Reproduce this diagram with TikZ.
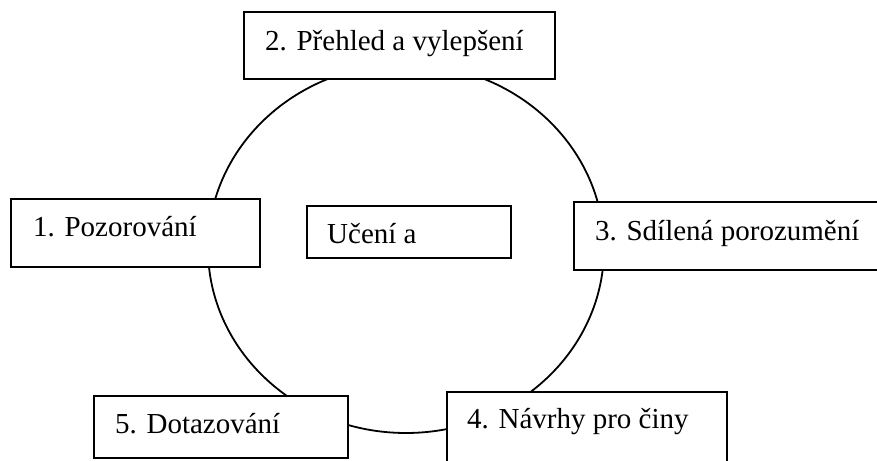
\documentclass[tikz,border=0pt]{standalone}
\usepackage{fontspec}
\setmainfont{Liberation Serif}
\newfontfamily\capfont{Liberation Serif}
\begin{document}
\begin{tikzpicture}[x=1pt,y=-1pt,
  stage/.style={draw=black, line width=2pt, fill=white, rectangle, inner sep=0pt},
  caption/.style={anchor=base west, inner sep=0pt, font=\capfont\fontsize{29}{34}\selectfont}]
\useasboundingbox (0,0) rectangle (877,460);
\clip (0,0) rectangle (877,460);
% the learning cycle
\draw[line width=1.8pt] (406,248.5) ellipse [x radius=198pt, y radius=184.5pt];
% stage boxes
\node[stage, minimum width=249pt, minimum height=68pt] (b1) at (135.5,233) {};
\node[stage, minimum width=311pt, minimum height=67pt] (b2) at (399.5,45.5) {};
\node[stage, minimum width=316pt, minimum height=68pt] (b3) at (732,236) {};
\node[stage, minimum width=280pt, minimum height=88pt] (b4) at (587,436) {};
\node[stage, minimum width=254pt, minimum height=62pt] (b5) at (221,427) {};
\node[stage, minimum width=204pt, minimum height=52pt] (bc) at (409,232) {};
% captions
\node[caption] (t1) at (33,236) {1. Pozorování};
\node[caption] (t2) at (265,50) {2. Přehled a vylepšení};
\node[caption] (t3) at (595,240) {3. Sdílená porozumění};
\node[caption] (t4) at (467,428) {4. Návrhy pro činy};
\node[caption] (t5) at (115,433) {5. Dotazování};
\node[caption] (tc) at (327,243) {Učení a};
\end{tikzpicture}
\end{document}
